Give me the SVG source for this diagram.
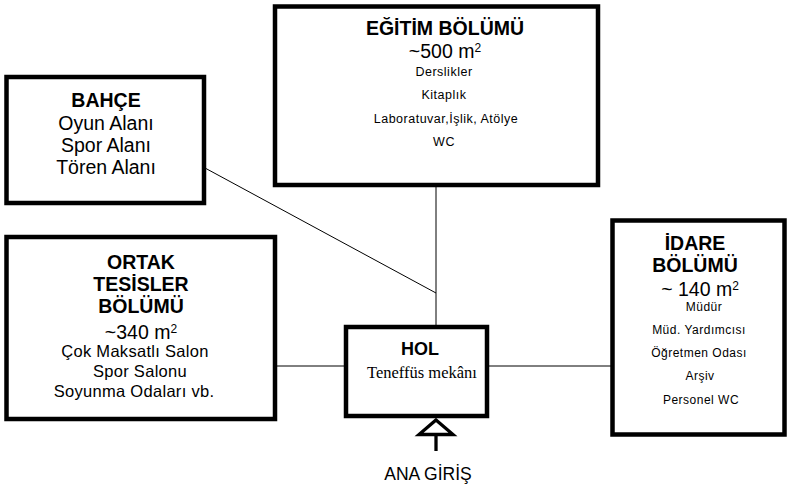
<svg xmlns="http://www.w3.org/2000/svg" width="788" height="488" viewBox="0 0 788 488">
<style>
.box{fill:#fff;stroke:#000;stroke-width:4.5}
.ln{stroke:#000;stroke-width:1;fill:none}
text{font-family:"Liberation Sans",Arial,sans-serif;fill:#000;text-anchor:middle}
.b{font-weight:bold;font-size:19.5px}
.r{font-size:19.5px}
.s{font-size:12.5px;letter-spacing:0.5px}
.si{font-size:12px;letter-spacing:0.5px}
.m{font-size:16.5px;letter-spacing:0.3px}
.t{font-family:"Liberation Serif","Times New Roman",serif;font-size:16.5px}
.sup{font-size:12px}
</style>
<rect width="788" height="488" fill="#fff"/>
<g id="connectors">
<line class="ln" x1="436" y1="185" x2="436" y2="327"/>
<line class="ln" x1="205" y1="168" x2="436" y2="293"/>
<line class="ln" x1="275" y1="366" x2="346" y2="366"/>
<line class="ln" x1="487" y1="366" x2="612" y2="366"/>
</g>
<g id="egitim">
<rect class="box" x="275" y="6.5" width="323" height="178.5"/>
<text class="b" x="445" y="35">EĞİTİM BÖLÜMÜ</text>
<text class="r" x="445" y="58">~500 m<tspan class="sup" dy="-6">2</tspan></text>
<text class="s" x="444" y="76">Derslikler</text>
<text class="s" x="444" y="99">Kitaplık</text>
<text class="s" x="446" y="123">Laboratuvar,İşlik, Atölye</text>
<text class="s" x="444" y="146">WC</text>
</g>
<g id="bahce">
<rect class="box" x="6.5" y="77" width="197.5" height="126"/>
<text class="b" x="106" y="107">BAHÇE</text>
<text class="r" x="106" y="130">Oyun Alanı</text>
<text class="r" x="106" y="152">Spor Alanı</text>
<text class="r" x="106" y="174">Tören Alanı</text>
</g>
<g id="ortak">
<rect class="box" x="6.5" y="237" width="268.5" height="182"/>
<text class="b" x="141" y="269">ORTAK</text>
<text class="b" x="141" y="291">TESİSLER</text>
<text class="b" x="141" y="313">BÖLÜMÜ</text>
<text class="r" x="141" y="339">~340 m<tspan class="sup" dy="-6">2</tspan></text>
<text class="m" x="135" y="357">Çok Maksatlı Salon</text>
<text class="m" x="140" y="377">Spor Salonu</text>
<text class="m" x="134" y="397">Soyunma Odaları vb.</text>
</g>
<g id="idare">
<rect class="box" x="612.5" y="220.5" width="172" height="214"/>
<text class="b" x="695" y="250">İDARE</text>
<text class="b" x="695" y="272">BÖLÜMÜ</text>
<text class="r" x="700" y="296">~ 140 m<tspan class="sup" dy="-6">2</tspan></text>
<text class="si" x="704" y="311">Müdür</text>
<text class="si" x="699" y="334">Müd. Yardımcısı</text>
<text class="si" x="699" y="357">Öğretmen Odası</text>
<text class="si" x="700" y="380">Arşiv</text>
<text class="si" x="701" y="404">Personel WC</text>
</g>
<g id="hol">
<rect class="box" x="346" y="327" width="141" height="89"/>
<text class="b" x="420" y="355" style="font-size:18px">HOL</text>
<text class="t" x="422" y="378">Teneffüs mekânı</text>
</g>
<g id="giris">
<polygon points="436,420 453,434.5 419,434.5" fill="#fff" stroke="#000" stroke-width="3.3"/>
<line x1="436" y1="434.5" x2="436" y2="451" stroke="#000" stroke-width="3.3"/>
<text class="r" x="428" y="480" style="font-size:17.5px">ANA GİRİŞ</text>
</g>
</svg>
